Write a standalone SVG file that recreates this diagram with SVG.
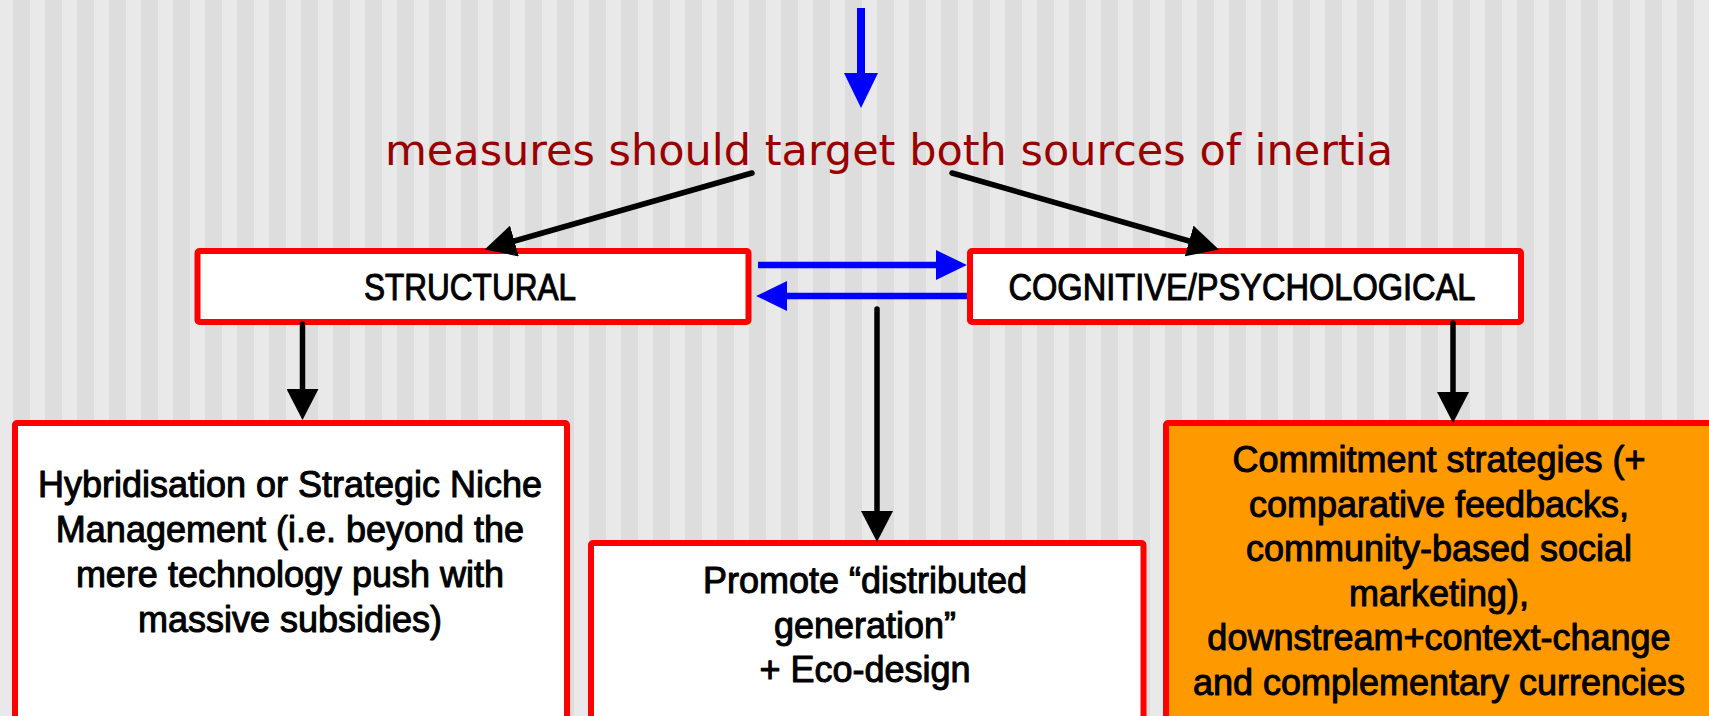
<svg xmlns="http://www.w3.org/2000/svg" width="1709" height="716" viewBox="0 0 1709 716">
<defs>
<pattern id="stripes" x="13" y="0" width="32" height="716" patternUnits="userSpaceOnUse">
<rect x="0" y="0" width="32" height="716" fill="#e9e9e9"/>
<rect x="0" y="0" width="17" height="716" fill="#dddddd"/>
</pattern>
<marker id="ahBlack" markerUnits="userSpaceOnUse" markerWidth="32" markerHeight="32" refX="0" refY="15" orient="auto" viewBox="0 0 30 30">
<path d="M0,0 L29,15 L0,30 z" fill="#000"/>
</marker>
<marker id="ahBlue" markerUnits="userSpaceOnUse" markerWidth="32" markerHeight="32" refX="0" refY="14" orient="auto" viewBox="0 0 30 28">
<path d="M0,0 L29,14 L0,28 z" fill="#0000ff"/>
</marker>
<marker id="ahBlueBig" markerUnits="userSpaceOnUse" markerWidth="36" markerHeight="36" refX="0" refY="17" orient="auto" viewBox="0 0 36 34">
<path d="M0,0 L35,17 L0,34 z" fill="#0000ff"/>
</marker>
</defs>
<style>
.box{fill:#ffffff;stroke:#ff0000;stroke-width:6;stroke-linejoin:round}
.orange{fill:#ff9900}
.t{font-family:"Liberation Sans",Arial,sans-serif;font-size:36px;fill:#000;stroke:#000;stroke-width:1;stroke-linejoin:round;text-anchor:middle}
.title{font-family:"DejaVu Sans",Verdana,sans-serif;font-size:43px;fill:#990000;text-anchor:middle}
.blk{stroke:#000;stroke-width:5.5;fill:none;stroke-linecap:round}
.blu{stroke:#0000ff;stroke-width:6.5;fill:none}
</style>
<rect x="0" y="0" width="1709" height="716" fill="url(#stripes)"/>

<g id="title">
<text class="title" x="889" y="165">measures should target both sources of inertia</text>
</g>

<g id="structural">
<rect class="box" x="197.5" y="251" width="551" height="71" rx="2"/>
<text class="t" x="470" y="300" textLength="212" lengthAdjust="spacingAndGlyphs">STRUCTURAL</text>
</g>

<g id="cognitive">
<rect class="box" x="970" y="251" width="551" height="71" rx="2"/>
<text class="t" x="1242" y="300" textLength="467" lengthAdjust="spacingAndGlyphs">COGNITIVE/PSYCHOLOGICAL</text>
</g>

<g id="hybridisation">
<rect class="box" x="15" y="423" width="552" height="330" rx="2"/>
<text class="t" x="290" y="497">Hybridisation or Strategic Niche</text>
<text class="t" x="290" y="542">Management (i.e. beyond the</text>
<text class="t" x="290" y="587">mere technology push with</text>
<text class="t" x="290" y="632">massive subsidies)</text>
</g>

<g id="distributed">
<rect class="box" x="591" y="543" width="552.5" height="210" rx="2"/>
<text class="t" x="865" y="593">Promote “distributed</text>
<text class="t" x="865" y="638">generation”</text>
<text class="t" x="865" y="682">+ Eco-design</text>
</g>

<g id="commitment">
<rect class="box orange" x="1166" y="423" width="600" height="330" rx="2"/>
<text class="t" x="1439" y="472">Commitment strategies (+</text>
<text class="t" x="1439" y="517">comparative feedbacks,</text>
<text class="t" x="1439" y="561">community-based social</text>
<text class="t" x="1439" y="606">marketing),</text>
<text class="t" x="1439" y="650">downstream+context-change</text>
<text class="t" x="1439" y="695">and complementary currencies</text>
</g>

<g id="connectors">
<line x1="861" y1="8" x2="861" y2="73" stroke="#0000ff" stroke-width="8" marker-end="url(#ahBlueBig)"/>
<line class="blk" x1="752" y1="173" x2="514.4" y2="241" marker-end="url(#ahBlack)"/>
<line class="blk" x1="952" y1="173" x2="1189.1" y2="241" marker-end="url(#ahBlack)"/>
<line class="blu" x1="758" y1="265" x2="936" y2="265" marker-end="url(#ahBlue)"/>
<line class="blu" x1="967" y1="296" x2="787" y2="296" marker-end="url(#ahBlue)"/>
<line class="blk" x1="302.5" y1="324" x2="302.5" y2="389" stroke-linecap="butt" marker-end="url(#ahBlack)"/>
<line class="blk" x1="877" y1="309" x2="877" y2="511" marker-end="url(#ahBlack)"/>
<line class="blk" x1="1453" y1="323" x2="1453" y2="392" marker-end="url(#ahBlack)"/>
</g>
</svg>
